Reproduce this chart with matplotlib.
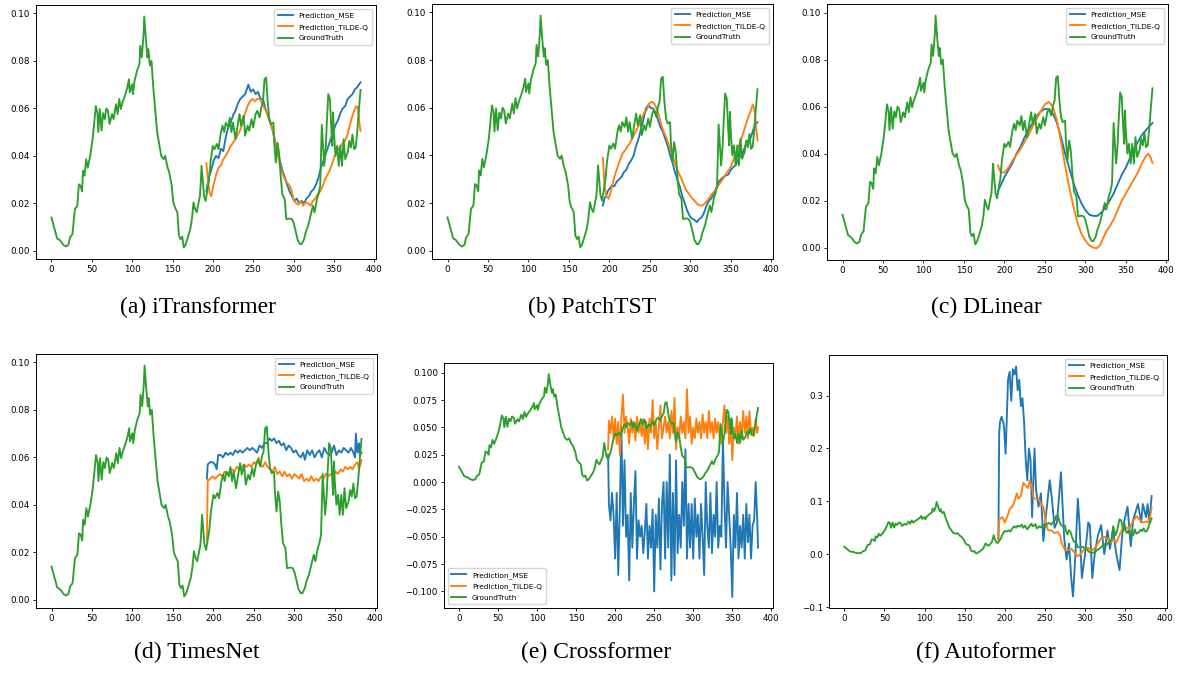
import matplotlib
matplotlib.use("Agg")
import matplotlib.pyplot as plt

# ---------------- data ----------------
gt = [(0, .0140), (4, .0090), (7, .0052), (10, .0046), (12, .0038), (15, .0024), (18, .0018),
      (21, .0025), (23, .0056), (26, .0070), (29, .0175), (32, .0190), (34, .0280), (36, .0274),
      (38, .0250), (39, .0337), (41, .0316), (43, .0386), (45, .0350), (48, .0400), (51, .0470),
      (53, .0540), (55, .0610), (57, .0580), (58, .0500), (60, .0597), (62, .0506), (64, .0580),
      (66, .0555), (68, .0600), (70, .0590), (72, .0534), (75, .0576), (77, .0555), (80, .0618),
      (82, .0576), (84, .0640), (86, .0597), (88, .0625), (91, .0653), (94, .0688), (96, .0723),
      (97, .0667), (100, .0702), (101, .0660), (103, .0716), (106, .0758), (109, .0787),
      (110, .0864), (112, .0815), (114, .0906), (115, .0987), (117, .0892), (119, .0815),
      (120, .0850), (122, .0780), (124, .0800), (126, .0695), (129, .0580), (131, .0500),
      (134, .0440), (136, .0400), (139, .0386), (141, .0400), (144, .0350), (146, .0330),
      (149, .0274), (151, .0204), (153, .0183), (156, .0162), (158, .0063), (160, .0049),
      (162, .0060), (164, .0014), (166, .0024), (169, .0056), (172, .0091), (174, .0133),
      (176, .0204), (178, .0176), (180, .0162), (182, .0197), (184, .0232), (185, .0288),
      (186, .0358), (188, .0274), (189, .0232), (191, .0210), (192, .0232), (195, .0295),
      (197, .0372), (200, .0442), (202, .0428), (205, .0450), (207, .0428), (210, .0500),
      (212, .0527), (214, .0500), (216, .0540), (219, .0520), (221, .0560), (223, .0500),
      (225, .0540), (228, .0470), (230, .0513), (233, .0576), (235, .0527), (238, .0569),
      (240, .0485), (243, .0527), (245, .0506), (248, .0555), (250, .0520), (253, .0576),
      (255, .0590), (258, .0562), (260, .0604), (262, .0625), (264, .0723), (266, .0730),
      (268, .0625), (270, .0555), (272, .0534), (275, .0540), (276, .0456), (278, .0372),
      (280, .0456), (282, .0414), (284, .0316), (286, .0239), (289, .0218), (291, .0133),
      (295, .0136), (298, .0133), (300, .0119), (303, .0077), (305, .0046), (308, .0028),
      (310, .0028), (313, .0049), (315, .0077), (318, .0105), (320, .0133), (322, .0162),
      (324, .0190), (326, .0162), (329, .0218), (331, .0239), (333, .0274), (334, .0400),
      (335, .0530), (337, .0414), (338, .0358), (340, .0442), (341, .0527), (343, .0660),
      (345, .0640), (347, .0500), (348, .0442), (349, .0583), (350, .0500), (352, .0400),
      (354, .0442), (356, .0358), (358, .0442), (360, .0358), (362, .0470), (364, .0386),
      (367, .0414), (369, .0463), (371, .0435), (373, .0490), (375, .0428), (377, .0435),
      (379, .0506), (381, .0597), (383, .0678)]

itrans_mse = [(192, .025), (195, .031), (198, .034), (201, .038), (204, .040), (207, .039), (210, .043),
              (213, .042), (216, .048), (219, .052), (222, .054), (225, .057), (228, .059), (231, .062),
              (234, .064), (237, .065), (240, .066), (242, .068), (244, .070), (247, .067), (250, .068),
              (253, .066), (256, .067), (259, .064), (262, .064), (265, .060), (268, .057), (271, .054),
              (274, .051), (277, .046), (280, .042), (283, .038), (286, .034), (289, .031), (292, .028),
              (295, .025), (298, .023), (301, .021), (304, .022), (307, .020), (310, .021), (313, .020),
              (316, .022), (319, .023), (322, .025), (325, .026), (328, .028), (331, .031), (334, .035),
              (337, .038), (340, .041), (343, .044), (346, .047), (349, .050), (352, .053), (355, .055),
              (358, .058), (361, .060), (364, .061), (367, .064), (370, .065), (373, .066), (376, .068),
              (379, .069), (381, .070), (383, .071)]
itrans_tq = [(192, .037), (194, .029), (196, .0245), (198, .023), (201, .028), (204, .032), (207, .035),
             (210, .036), (213, .0386), (216, .040), (219, .042), (222, .044), (225, .0456), (228, .047),
             (231, .049), (234, .051), (237, .054), (240, .058), (243, .061), (246, .063), (249, .064),
             (252, .063), (255, .064), (258, .064), (261, .062), (264, .060), (267, .058), (270, .055),
             (273, .052), (276, .048), (279, .043), (282, .038), (285, .034), (288, .031), (291, .029),
             (294, .028), (297, .026), (300, .022), (303, .020), (306, .0195), (309, .021), (312, .019),
             (315, .0205), (318, .020), (321, .019), (324, .021), (327, .022), (330, .024), (333, .025),
             (336, .027), (339, .030), (342, .032), (345, .034), (348, .037), (351, .040), (354, .042),
             (357, .0435), (360, .045), (363, .046), (366, .048), (369, .052), (372, .056), (375, .059),
             (378, .061), (380, .0597), (382, .0527), (383, .0506)]

patch_mse = [(192, .019), (194, .022), (196, .023), (198, .025), (200, .026), (203, .0274), (206, .027),
             (209, .029), (212, .030), (215, .031), (218, .033), (221, .034), (224, .0365), (227, .038),
             (230, .040), (233, .044), (236, .047), (239, .051), (242, .055), (245, .0597), (248, .061),
             (251, .060), (254, .0597), (257, .058), (260, .055), (263, .052), (266, .050), (269, .047),
             (272, .044), (275, .040), (278, .037), (281, .033), (284, .030), (287, .027), (290, .023),
             (293, .020), (296, .017), (299, .0147), (302, .0135), (305, .013), (308, .012), (311, .0133),
             (314, .014), (317, .016), (320, .019), (323, .021), (326, .022), (329, .024), (332, .026),
             (335, .029), (338, .030), (341, .031), (344, .0316), (347, .032), (350, .034), (353, .035),
             (356, .036), (359, .038), (362, .040), (365, .0414), (368, .044), (371, .046), (374, .047),
             (377, .050), (380, .053), (383, .054)]
patch_tq = [(192, .039), (194, .0274), (196, .023), (199, .0218), (202, .025), (204, .028), (207, .032),
            (210, .035), (213, .038), (216, .0407), (219, .042), (222, .0435), (225, .045), (228, .047),
            (231, .049), (234, .051), (237, .053), (240, .0555), (243, .058), (246, .059), (249, .0618),
            (252, .0625), (255, .062), (258, .060), (261, .057), (264, .053), (267, .050), (270, .0478),
            (273, .045), (276, .042), (279, .039), (282, .0358), (285, .033), (288, .031), (291, .0285),
            (294, .026), (297, .0245), (300, .023), (303, .0218), (306, .0206), (309, .0195), (312, .019),
            (315, .019), (318, .020), (321, .021), (324, .0225), (327, .024), (330, .025), (333, .0265),
            (336, .028), (339, .0295), (342, .031), (345, .0328), (348, .034), (351, .036), (354, .039),
            (357, .0414), (360, .044), (363, .047), (366, .050), (369, .0534), (372, .0565), (375, .059),
            (377, .0614), (379, .0597), (381, .0527), (383, .0463)]

dlin_mse = [(192, .024), (196, .027), (200, .030), (205, .033), (210, .036), (215, .040), (220, .043),
            (225, .047), (230, .050), (235, .053), (240, .056), (245, .058), (250, .059), (255, .059),
            (260, .057), (265, .053), (270, .047), (275, .040), (280, .034), (285, .028), (290, .023),
            (295, .019), (300, .016), (305, .014), (310, .0135), (315, .0135), (320, .015), (325, .017),
            (330, .020), (335, .023), (340, .027), (345, .031), (350, .034), (355, .038), (360, .042),
            (365, .045), (370, .048), (375, .050), (380, .052), (383, .053)]
dlin_tq = [(192, .035), (194, .033), (196, .032), (200, .032), (205, .034), (210, .037), (215, .0395),
           (220, .042), (225, .045), (230, .048), (235, .0515), (240, .055), (245, .058), (250, .061),
           (255, .062), (260, .060), (265, .054), (270, .045), (275, .035), (280, .026), (285, .018),
           (290, .011), (295, .006), (300, .003), (305, .001), (310, .0), (314, -.0003), (318, .001),
           (322, .004), (326, .007), (330, .009), (335, .012), (340, .016), (345, .020), (350, .023),
           (355, .026), (360, .029), (365, .032), (370, .036), (375, .039), (378, .040), (381, .038),
           (383, .036)]

tnet_mse = [(192, .051), (193, .057), (196, .058), (199, .058), (202, .057), (204, .055), (206, .061),
            (209, .061), (212, .060), (215, .062), (218, .061), (221, .062), (224, .061), (227, .063),
            (230, .062), (233, .063), (236, .062), (239, .063), (242, .064), (245, .063), (248, .064),
            (251, .063), (254, .062), (257, .065), (260, .064), (263, .066), (266, .066), (269, .068),
            (272, .067), (275, .068), (278, .066), (281, .067), (284, .065), (287, .066), (290, .063),
            (293, .065), (296, .064), (299, .062), (302, .063), (305, .061), (308, .060), (311, .062),
            (313, .059), (316, .063), (319, .061), (322, .063), (325, .060), (328, .062), (331, .063),
            (334, .060), (337, .064), (340, .062), (343, .061), (346, .062), (349, .065), (352, .061),
            (355, .063), (358, .062), (361, .064), (364, .063), (367, .062), (370, .064), (373, .062),
            (375, .060), (376, .070), (378, .062), (380, .066), (381, .061), (383, .062)]
tnet_tq = [(192, .025), (193, .050), (196, .051), (199, .052), (202, .051), (205, .052), (208, .053),
           (211, .052), (214, .054), (217, .053), (220, .054), (223, .055), (226, .054), (229, .056),
           (232, .055), (235, .056), (238, .057), (241, .056), (244, .057), (247, .056), (250, .058),
           (253, .057), (256, .060), (258, .057), (261, .056), (264, .058), (267, .056), (270, .055),
           (273, .054), (276, .056), (279, .053), (282, .054), (285, .052), (288, .054), (291, .052),
           (294, .053), (297, .051), (300, .053), (303, .052), (306, .051), (309, .053), (312, .050),
           (315, .051), (318, .050), (321, .052), (324, .050), (327, .051), (330, .050), (333, .052),
           (336, .051), (339, .053), (342, .052), (345, .053), (348, .052), (351, .054), (354, .053),
           (357, .055), (360, .054), (363, .056), (366, .055), (369, .056), (372, .055), (375, .057),
           (378, .058), (380, .055), (383, .059)]

cross_mse = [(191, .025), (192, -.020), (194, -.035), (196, -.010), (198, -.030), (200, -.070),
             (202, -.010), (204, -.085), (206, -.025), (208, .050), (210, -.040), (212, .020),
             (214, -.050), (216, -.030), (218, -.090), (220, -.010), (222, -.060), (224, -.020),
             (226, .010), (228, -.070), (230, -.035), (232, -.050), (234, -.040), (236, -.065),
             (238, -.045), (240, -.020), (242, -.070), (244, -.040), (246, -.060), (248, -.025),
             (250, -.100), (252, -.030), (254, -.060), (256, -.015), (258, -.080), (260, -.020),
             (262, .000), (264, -.070), (266, .000), (268, -.060), (270, .025), (272, -.090),
             (274, -.010), (276, -.085), (278, .020), (280, -.065), (282, -.030), (284, -.060),
             (286, .000), (288, -.040), (290, .030), (292, -.070), (294, -.020), (296, -.060),
             (298, -.020), (300, -.070), (302, -.015), (304, -.050), (306, -.030), (308, -.070),
             (310, -.020), (312, -.050), (314, -.085), (316, .000), (318, -.040), (320, -.060),
             (322, -.010), (324, -.065), (326, -.030), (328, -.050), (330, .000), (332, -.060),
             (334, -.040), (336, -.050), (338, .040), (340, -.020), (342, -.060), (344, .000),
             (346, -.030), (348, -.060), (350, -.105), (352, -.030), (354, -.060), (356, -.010),
             (358, -.070), (360, -.040), (362, -.060), (364, -.030), (366, -.070), (368, -.020),
             (370, -.055), (372, -.030), (374, -.070), (376, -.040), (378, -.035), (380, .000),
             (382, -.035), (383, -.060)]
cross_tq = [(191, .030), (192, .056), (194, .045), (196, .060), (198, .040), (200, .058), (202, .035),
            (204, .055), (206, .025), (208, .060), (210, .080), (212, .045), (214, .060), (216, .050),
            (218, .035), (220, .058), (222, .045), (224, .055), (226, .038), (228, .060), (230, .045),
            (232, .055), (234, .042), (236, .058), (238, .035), (240, .055), (242, .030), (244, .058),
            (246, .045), (248, .075), (250, .040), (252, .055), (254, .030), (256, .050), (258, .070),
            (260, .040), (262, .050), (264, .060), (266, .045), (268, .055), (270, .040), (272, .065),
            (274, .045), (276, .077), (278, .030), (280, .050), (282, .040), (284, .060), (286, .045),
            (288, .055), (290, .040), (292, .085), (294, .045), (296, .060), (298, .035), (300, .050),
            (302, .040), (304, .058), (306, .045), (308, .055), (310, .040), (312, .062), (314, .045),
            (316, .055), (318, .040), (320, .065), (322, .045), (324, .055), (326, .040), (328, .058),
            (330, .045), (332, .055), (334, .040), (336, .035), (338, .055), (340, .070), (342, .045),
            (344, .060), (346, .035), (348, .055), (350, .020), (352, .050), (354, .040), (356, .060),
            (358, .035), (360, .055), (362, .040), (364, .065), (366, .045), (368, .060), (370, .040),
            (372, .065), (374, .045), (376, .050), (378, .042), (380, .058), (382, .045), (383, .050)]

auto_mse = [(192, .028), (193, .23), (194, .25), (196, .26), (198, .25), (199, .24), (201, .19),
            (204, .33), (206, .345), (208, .29), (210, .35), (212, .34), (214, .355), (216, .31),
            (218, .33), (220, .28), (222, .295), (224, .25), (226, .18), (228, .14), (230, .20),
            (232, .18), (234, .07), (237, .20), (239, .12), (242, .09), (245, .115), (248, .025),
            (251, .07), (256, .14), (259, .10), (262, .05), (265, .06), (270, .155), (274, .03),
            (277, -.01), (280, .02), (283, -.05), (285, -.08), (288, .0), (291, .105), (293, .06),
            (296, -.045), (300, .0), (304, .06), (306, .055), (309, -.045), (312, .0), (316, .035),
            (320, .055), (324, .0), (328, .045), (331, .01), (335, .045), (339, .0), (343, -.03),
            (347, .05), (353, .09), (357, .015), (360, .065), (366, .095), (370, .06), (372, .095),
            (376, .07), (378, .095), (380, .06), (383, .11)]
auto_tq = [(192, .028), (193, .065), (195, .068), (197, .07), (200, .06), (204, .075), (206, .085),
           (209, .09), (211, .095), (213, .105), (215, .115), (217, .105), (220, .11), (223, .135),
           (226, .13), (229, .125), (231, .14), (234, .125), (236, .105), (239, .105), (242, .105),
           (245, .095), (248, .09), (251, .06), (254, .045), (258, .045), (262, .04), (266, .042),
           (269, .035), (271, .02), (275, .008), (279, .008), (283, .01), (287, .003), (291, -.004),
           (296, .003), (300, .012), (304, .012), (308, .006), (312, .012), (316, .02), (320, .03),
           (324, .033), (328, .03), (332, .022), (335, .028), (339, .022), (344, .04), (348, .052),
           (352, .05), (355, .048), (359, .06), (364, .072), (368, .065), (372, .06), (376, .062),
           (379, .06), (381, .07), (383, .088)]

model_names = ["iTransformer", "PatchTST", "DLinear", "TimesNet", "Crossformer", "Autoformer"]
caption_letters = ["a", "b", "c", "d", "e", "f"]
series_labels = ["Prediction_MSE", "Prediction_TILDE-Q", "GroundTruth"]
preds = [(itrans_mse, itrans_tq), (patch_mse, patch_tq), (dlin_mse, dlin_tq),
         (tnet_mse, tnet_tq), (cross_mse, cross_tq), (auto_mse, auto_tq)]

# ---------------- layout (pixels of the 1178x673 reference) ----------------
W, H = 1178, 673
axes_px = [(36, 376, 5, 259), (432, 773, 4, 259), (827, 1168, 4, 260),
           (36, 377, 354, 608), (444, 773, 363, 608), (829, 1167, 355, 608)]
caption_px = [(198, 307), (592, 307), (986, 307), (197, 652), (596, 652), (986, 652)]
legend_locs = ["upper right"] * 4 + ["lower left", "upper right"]
colors = ["#1f77b4", "#ff7f0e", "#2ca02c"]

fig = plt.figure(figsize=(W / 100, H / 100), dpi=100)

def unzip(pairs):
    return [p[0] for p in pairs], [p[1] for p in pairs]

gx, gy = unzip(gt)
for i, (l, r, t, b) in enumerate(axes_px):
    ax = fig.add_axes([l / W, 1 - b / H, (r - l) / W, (b - t) / H])
    mx, my = unzip(preds[i][0])
    tx, ty = unzip(preds[i][1])
    ax.plot(mx, my, color=colors[0], lw=1.35, label=series_labels[0])
    ax.plot(tx, ty, color=colors[1], lw=1.35, label=series_labels[1])
    ax.plot(gx, gy, color=colors[2], lw=1.35, label=series_labels[2])
    ax.tick_params(labelsize=6.3, length=2.4, width=0.6, pad=2.0)
    for s in ax.spines.values():
        s.set_linewidth(0.7)
    ax.legend(loc=legend_locs[i], fontsize=5.3, handlelength=2.0, borderpad=0.5,
              labelspacing=0.6, framealpha=0.8)
    cx, cy = caption_px[i]
    fig.text(cx / W, 1 - cy / H, f"({caption_letters[i]}) {model_names[i]}",
             ha="center", va="center", fontsize=17, family="Liberation Serif")

fig.savefig("out.png", dpi=100)
